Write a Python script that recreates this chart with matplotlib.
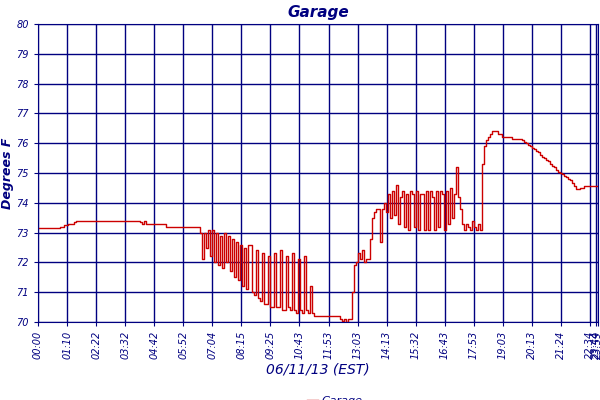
import matplotlib
matplotlib.use("Agg")
import matplotlib.pyplot as plt
import numpy as np

tick_labels = ["00:00","01:10","02:22","03:32","04:42","05:52","07:04","08:15","09:25","10:43",
               "11:53","13:03","14:13","15:32","16:43","17:53","19:03","20:13","21:24","22:34"]
end_labels = ["23:44", "23:59"]
y_ticks = [70,71,72,73,74,75,76,77,78,79,80]

garage = (
    [73.15]*11 +
    [73.2,73.2,73.25,73.25,73.3,73.3,73.3,73.35,73.4,73.4] +
    [73.4]*30 +
    [73.35,73.3,73.4,73.3,73.3,73.3,73.3,73.3,73.3,73.3,73.3,73.3,73.3] +
    [73.2]*17 +
    [73.0,72.1,73.0,72.5,73.1,72.2,73.1,72.0,73.0,71.9,72.9,71.8,73.0,72.0,72.9,71.7,72.8,71.5,72.7,71.4,72.6,71.2,72.5,71.1,72.6] +
    [72.6,71.0,70.9,72.4,70.8,70.7,72.3,70.6,70.6,72.2,70.5,70.5,72.3,70.5,70.5,72.4,70.4,70.4,72.2,70.5,70.4,72.3,70.4,70.3,72.1,70.4,70.3,72.2,70.4,70.3,71.2,70.3,70.2] +
    [70.2]*12 +
    [70.1,70.05,70.1,70.0,70.1,70.1] +
    [71.0,71.9,72.0,72.3,72.1,72.4,72.0,72.1,72.1] +
    [72.8,73.5,73.7,73.8,73.8,72.7,73.8] +
    [74.0,73.7,74.3,73.5,74.4,73.6,74.6,73.3,74.2,74.4,73.2,74.3,73.1,74.4,74.3,73.2,74.4,73.1,74.3,74.3,73.1,74.4,73.1,74.4,74.2,73.1,74.4,73.2,74.4,74.3,73.1,74.4,73.3,74.5,73.5,74.3] +
    [75.2,74.2,73.8] +
    [73.3,73.1,73.3,73.2,73.1,73.4,73.2,73.1,73.3,73.1] +
    [75.3,75.9,76.1,76.2,76.3,76.4,76.4,76.4,76.3,76.3] +
    [76.2]*5 + [76.15]*5 +
    [76.1,76.05,76.0,75.95,75.9,75.85,75.8,75.75,75.7,75.6,75.55,75.5,75.45,75.4,75.3,75.25,75.2,75.1,75.05,75.0,74.95,74.9,74.85,74.8,74.75] +
    [74.65,74.55,74.45,74.45,74.5,74.5,74.55] +
    [74.55]*7
)

navy = "#000080"
fig = plt.figure(figsize=(6, 4), dpi=100)
ax = fig.add_axes([38/600, 78/400, 560/600, 298/400])
n = len(garage)
x = np.arange(n)
ax.plot(x, garage, color="#cc0000", lw=1, drawstyle="steps-post", label="Garage")
ax.set_xlim(0, n-1)
ax.set_ylim(70, 80)
step = (n-1) * 29.05 / 560
ticks = [i*step for i in range(len(tick_labels))] + [(n-1)*558/560, n-1]
ax.set_xticks(ticks)
ax.set_xticklabels(tick_labels + end_labels, rotation=90, fontsize=7, style="italic", color=navy)
ax.set_yticks(y_ticks)
ax.set_yticklabels([str(v) for v in y_ticks], fontsize=7, style="italic", color=navy)
ax.tick_params(colors=navy, length=3)
ax.grid(True, color=navy, lw=1)
for s in ax.spines.values():
    s.set_color(navy)
ax.set_title("Garage", fontsize=11, style="italic", fontweight="bold", color=navy, pad=5)
ax.set_ylabel("Degrees F", fontsize=9, style="italic", fontweight="bold", color=navy, labelpad=2)
ax.set_xlabel("06/11/13 (EST)", fontsize=10, style="italic", color=navy, labelpad=2)
leg = ax.legend(loc="upper center", bbox_to_anchor=(0.53, -0.225), frameon=False,
                handlelength=1, handletextpad=0.3, borderpad=0.1, prop={"style": "italic", "size": 8})
for t in leg.get_texts():
    t.set_color(navy)
fig.savefig("out.png", dpi=100)
